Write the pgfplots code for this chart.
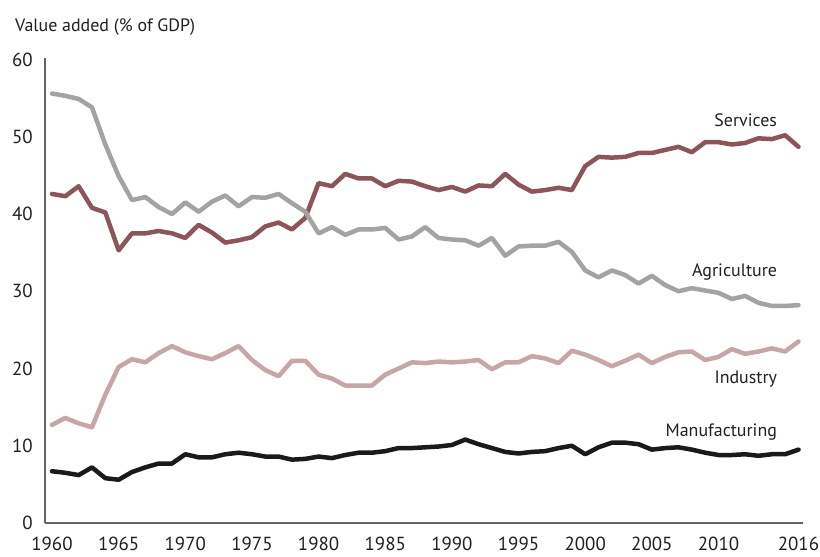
\documentclass[border=0pt]{standalone}
\usepackage{pgfplots}
\pgfplotsset{compat=1.18}
\usepackage{pgfplotstable}
\usepackage{fontspec}
\setmainfont{PT Sans}
\definecolor{serv}{RGB}{139,85,89}
\definecolor{agri}{RGB}{163,163,163}
\definecolor{indu}{RGB}{198,166,166}
\definecolor{manu}{RGB}{26,26,26}
\definecolor{txt}{RGB}{35,31,32}
\definecolor{axc}{RGB}{100,100,104}

\pgfplotstableread{
year serv agri indu manu
1960 42.6 55.6 12.7 6.7
1961 42.3 55.3 13.6 6.5
1962 43.6 54.9 12.9 6.2
1963 40.8 53.8 12.4 7.2
1964 40.2 49.0 16.6 5.8
1965 35.3 44.9 20.2 5.6
1966 37.5 41.8 21.2 6.6
1967 37.5 42.2 20.8 7.2
1968 37.8 40.9 22.0 7.7
1969 37.5 40.0 22.9 7.7
1970 36.9 41.5 22.1 8.9
1971 38.6 40.3 21.6 8.5
1972 37.6 41.6 21.2 8.5
1973 36.3 42.4 22.0 8.9
1974 36.6 41.0 22.9 9.1
1975 37.0 42.2 21.1 8.9
1976 38.4 42.1 19.8 8.6
1977 38.9 42.6 19.0 8.6
1978 38.0 41.4 21.0 8.2
1979 39.5 40.3 21.0 8.3
1980 44.0 37.5 19.2 8.6
1981 43.6 38.3 18.7 8.4
1982 45.2 37.3 17.8 8.8
1983 44.6 38.0 17.8 9.1
1984 44.6 38.0 17.8 9.1
1985 43.6 38.2 19.2 9.3
1986 44.3 36.7 20.0 9.7
1987 44.2 37.1 20.8 9.7
1988 43.6 38.3 20.7 9.8
1989 43.1 36.9 20.9 9.9
1990 43.5 36.7 20.8 10.1
1991 42.9 36.6 20.9 10.8
1992 43.7 35.9 21.1 10.2
1993 43.6 36.9 19.9 9.7
1994 45.2 34.6 20.8 9.2
1995 43.8 35.8 20.8 9.0
1996 42.9 35.9 21.6 9.2
1997 43.1 35.9 21.3 9.3
1998 43.4 36.4 20.7 9.7
1999 43.1 35.1 22.3 10.0
2000 46.2 32.7 21.8 8.9
2001 47.4 31.8 21.1 9.8
2002 47.3 32.7 20.3 10.4
2003 47.4 32.1 21.0 10.4
2004 47.9 31.0 21.8 10.2
2005 47.9 32.0 20.7 9.5
2006 48.3 30.8 21.5 9.7
2007 48.7 30.0 22.1 9.8
2008 48.0 30.4 22.2 9.5
2009 49.3 30.1 21.1 9.1
2010 49.3 29.8 21.5 8.8
2011 49.0 29.0 22.5 8.8
2012 49.2 29.4 21.9 8.9
2013 49.8 28.5 22.2 8.7
2014 49.7 28.1 22.6 8.9
2015 50.2 28.1 22.2 8.9
2016 48.7 28.2 23.5 9.5
}\data

\begin{document}
\begin{tikzpicture}[x=1bp,y=1bp]
\path[use as bounding box] (0,0) rectangle (820,557);
\node[anchor=base west, inner sep=0, font=\fontsize{18}{20}\selectfont, text=txt] at (15,525) {Value added (\% of GDP)};
\begin{axis}[
  at={(45bp,34bp)}, anchor=south west,
  scale only axis, width=758bp, height=465bp,
  xmin=1959.475, xmax=2016.34,
  ymin=0, ymax=60.2,
  axis x line=bottom, axis y line=left,
  axis line style={-, draw=axc, line width=1.2bp},
  major tick length=0pt,
  xtick={1960,1965,1970,1975,1980,1985,1990,1995,2000,2005,2010,2016},
  xticklabels={1960,1965,1970,1975,1980,1985,1990,1995,2000,2005,2010,2016},
  ytick={0,10,20,30,40,50,60},
  yticklabels={0,10,20,30,40,50,60},
  tick label style={font=\fontsize{19}{21}\selectfont, text=txt},
  yticklabel style={anchor=east, inner sep=0pt, xshift=-12bp},
  xticklabel style={anchor=north, inner sep=0pt, yshift=-14bp},
  clip=false,
  every axis plot/.append style={line width=4.5bp, line join=round, line cap=round, mark=none},
]
\addplot[color=manu] table[x=year,y=manu] {\data};
\addplot[color=indu] table[x=year,y=indu] {\data};
\addplot[color=serv] table[x=year,y=serv] {\data};
\addplot[color=agri] table[x=year,y=agri] {\data};
\node[anchor=base east, inner sep=0, font=\fontsize{18}{20}\selectfont, text=txt] at (axis cs:2014.4,51.3) {Services};
\node[anchor=base east, inner sep=0, font=\fontsize{18}{20}\selectfont, text=txt] at (axis cs:2014.4,31.9) {Agriculture};
\node[anchor=base east, inner sep=0, font=\fontsize{18}{20}\selectfont, text=txt] at (axis cs:2014.4,18.0) {Industry};
\node[anchor=base east, inner sep=0, font=\fontsize{18}{20}\selectfont, text=txt] at (axis cs:2014.4,11.2) {Manufacturing};
\end{axis}
\end{tikzpicture}
\end{document}
